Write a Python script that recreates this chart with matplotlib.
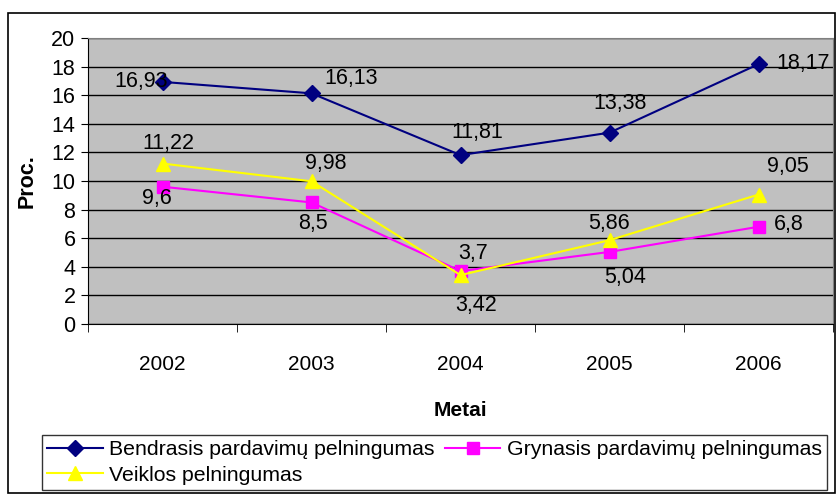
import matplotlib.pyplot as plt
import matplotlib.patches as patches
from matplotlib.ticker import MultipleLocator, FixedLocator

plt.rcParams['font.family'] = ['Liberation Sans', 'DejaVu Sans']

# Data
years = ['2002', '2003', '2004', '2005', '2006']
bendrasis = [16.93, 16.13, 11.81, 13.38, 18.17]
grynasis = [9.6, 8.5, 3.7, 5.04, 6.8]
veiklos = [11.22, 9.98, 3.42, 5.86, 9.05]

series_names = ['Bendrasis pardavimų pelningumas',
                'Grynasis pardavimų pelningumas',
                'Veiklos pelningumas']

# label offsets in pixels (dx, dy) relative to each point
off_b = [(-21, 0), (40, 15), (17, 23), (11, 29), (45, 1)]
off_g = [(-6, -12), (1, -21), (13, 18), (16, -26), (30, 2)]
off_v = [(6, 20), (14, 18), (16, -30), (-1, 17), (29, 28)]

fig = plt.figure(figsize=(8.36, 4.95), dpi=100)
W, H = 836, 495
ax = fig.add_axes([88 / W, 1 - 324 / H, (833 - 88) / W, (324 - 38) / H])
ax.set_facecolor('#C0C0C0')

x = list(range(len(years)))
ax.plot(x, bendrasis, color='#000080', marker='D', markersize=8, lw=1.5, label=series_names[0])
ax.plot(x, grynasis, color='#FF00FF', marker='s', markersize=8, lw=1.5, label=series_names[1])
ax.plot(x, veiklos, color='#FFFF00', marker='^', markersize=10, lw=1.5, label=series_names[2])

for vals, offs in [(bendrasis, off_b), (grynasis, off_g), (veiklos, off_v)]:
    for xi, v, (dx, dy) in zip(x, vals, offs):
        ax.annotate(f'{v:g}'.replace('.', ','), (xi, v), xytext=(dx, dy),
                    textcoords='offset pixels', ha='center', va='center', fontsize=15.5)

ax.set_xlim(-0.5, 4.5)
ax.set_ylim(0, 20)
ax.yaxis.set_major_locator(MultipleLocator(2))
ax.grid(axis='y', color='black', lw=1)
ax.set_axisbelow(True)

ax.set_xticks(x)
ax.set_xticklabels(years, fontsize=15)
ax.xaxis.set_minor_locator(FixedLocator([i - 0.5 for i in range(6)]))
ax.tick_params(axis='x', which='major', length=0, pad=22)
ax.tick_params(axis='x', which='minor', length=6, direction='out')
ax.tick_params(axis='y', labelsize=15.5, length=5, direction='out', pad=4)

for side in ['top', 'right']:
    ax.spines[side].set_color('#808080')
ax.spines['left'].set_color('black')
ax.spines['bottom'].set_color('black')

ax.set_ylabel('Proc.', fontsize=15.5, fontweight='bold', labelpad=10)
ax.set_xlabel('Metai', fontsize=15, fontweight='bold', labelpad=20)

h, l = ax.get_legend_handles_labels()
order = [0, 2, 1]
leg = fig.legend([h[i] for i in order], [l[i] for i in order], ncol=2,
                 loc='lower left', bbox_to_anchor=(42 / W, 1 - 490 / H),
                 borderaxespad=0, fontsize=15.3, frameon=True, fancybox=False,
                 edgecolor='black', borderpad=0.25, handlelength=2.6,
                 handletextpad=0.3, columnspacing=0.5, labelspacing=0.3)
leg.get_frame().set_linewidth(1)

fig.patches.append(patches.Rectangle((8 / W, 1 - 493 / H), (835 - 8) / W, (493 - 13) / H,
                                     transform=fig.transFigure, fill=False,
                                     edgecolor='black', lw=1.2))

fig.savefig('out.png', dpi=100)
